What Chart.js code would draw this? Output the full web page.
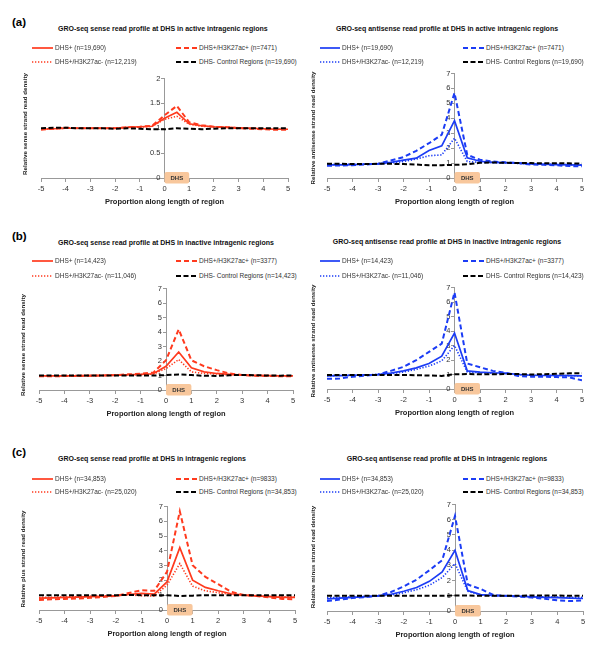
<!DOCTYPE html>
<html><head><meta charset="utf-8">
<script src="https://cdn.jsdelivr.net/npm/chart.js@4"></script>
<style>
body{margin:0;background:#fff;width:600px;height:650px;position:relative;overflow:hidden;font-family:"Liberation Sans",Arial,sans-serif;}
.t{position:absolute;white-space:nowrap;color:#222;}
.wrap{position:absolute;}
</style></head><body>
<script>
// ---------- DATA ----------
const xPositions = [-5,-4.5,-4,-3.5,-3,-2.5,-2,-1.5,-1,-0.5,0,0.5,1,1.5,2,2.5,3,3.5,4,4.5,5];

const activeSense_DHS     = [0.98,0.99,1.0,1.0,1.0,1.0,1.0,1.02,1.03,1.04,1.2,1.32,1.09,1.05,1.03,1.02,1.01,1.0,0.99,0.98,0.98];
const activeSense_AcPos   = [0.97,0.99,1.01,1.0,1.0,1.0,1.0,1.02,1.03,1.05,1.26,1.45,1.12,1.06,1.03,1.02,1.0,0.99,0.98,0.97,0.97];
const activeSense_AcNeg   = [0.98,0.99,1.0,1.0,1.0,1.0,1.0,1.02,1.02,1.04,1.18,1.24,1.08,1.04,1.03,1.02,1.01,1.0,0.99,0.98,0.98];
const activeSense_Control = [1.0,1.01,1.01,1.0,1.0,1.0,0.99,1.0,0.99,0.98,0.98,1.0,0.99,0.98,0.99,1.0,1.0,1.0,1.0,1.0,1.0];

const activeAnti_DHS     = [0.88,0.88,0.9,0.92,0.95,1.05,1.2,1.33,1.84,2.15,3.84,1.35,1.12,1.05,1.02,1.0,0.95,0.92,0.9,0.88,0.86];
const activeAnti_AcPos   = [0.82,0.84,0.86,0.9,0.96,1.17,1.4,1.82,2.33,2.9,5.7,1.55,1.22,1.1,1.05,1.0,0.9,0.88,0.85,0.8,0.78];
const activeAnti_AcNeg   = [0.9,0.9,0.92,0.93,0.95,1.0,1.1,1.27,1.49,1.55,2.67,1.1,1.05,1.03,1.0,0.98,0.95,0.93,0.92,0.9,0.88];
const activeAnti_Control = [0.95,0.95,0.94,0.94,0.95,0.95,0.93,0.9,0.85,0.86,0.88,0.92,1.02,1.04,1.02,1.0,1.0,0.98,0.98,0.98,0.97];

const inactiveSense_DHS     = [0.97,0.97,0.98,0.98,0.99,1.0,1.02,1.05,1.08,1.12,1.64,2.62,1.53,1.25,1.14,1.08,1.03,1.0,0.99,0.98,0.97];
const inactiveSense_AcPos   = [0.95,0.95,0.96,0.97,0.98,1.0,1.02,1.08,1.12,1.2,2.05,4.18,2.05,1.64,1.37,1.14,1.03,0.99,0.97,0.95,0.95];
const inactiveSense_AcNeg   = [0.98,0.98,0.99,0.99,1.0,1.0,1.02,1.04,1.06,1.1,1.48,2.1,1.25,1.14,1.1,1.05,1.02,1.0,0.99,0.98,0.98];
const inactiveSense_Control = [1.0,1.0,1.0,1.0,1.0,1.0,1.0,1.0,1.0,1.0,1.03,1.07,1.03,0.98,0.97,1.02,1.04,1.02,1.0,0.99,1.0];

const inactiveAnti_DHS     = [0.9,0.92,0.95,0.98,1.0,1.1,1.25,1.46,1.76,2.26,3.86,1.25,1.17,1.12,1.1,1.0,0.95,0.93,0.93,0.92,0.9];
const inactiveAnti_AcPos   = [0.7,0.72,0.85,0.92,1.0,1.25,1.53,1.99,2.56,3.13,6.66,1.76,1.5,1.25,1.12,0.9,0.85,0.85,0.82,0.8,0.6];
const inactiveAnti_AcNeg   = [0.92,0.93,0.95,0.98,1.0,1.05,1.17,1.35,1.58,1.94,3.0,1.17,1.12,1.08,1.05,1.0,0.95,0.95,0.93,0.92,0.9];
const inactiveAnti_Control = [0.97,0.97,0.96,0.96,0.97,0.97,0.97,0.95,0.93,0.9,1.02,1.03,1.02,1.02,1.03,1.03,1.0,1.02,1.05,1.08,1.08];

const allSense_DHS     = [0.8,0.82,0.85,0.87,0.9,0.93,0.96,1.05,1.12,1.08,1.9,4.22,2.02,1.53,1.3,1.1,1.0,0.95,0.9,0.85,0.85];
const allSense_AcPos   = [0.68,0.72,0.75,0.78,0.82,0.88,0.95,1.15,1.33,1.3,2.58,6.68,3.03,2.24,1.75,1.23,1.02,0.95,0.85,0.75,0.72];
const allSense_AcNeg   = [0.85,0.86,0.88,0.9,0.92,0.95,0.98,1.02,0.97,0.95,1.68,3.14,1.61,1.3,1.17,1.05,1.0,0.95,0.92,0.9,0.88];
const allSense_Control = [1.0,1.0,1.0,1.0,1.0,1.0,1.0,1.02,1.0,1.0,1.0,0.95,0.97,1.0,1.0,1.0,1.0,1.0,1.0,1.0,1.0];

const allAnti_DHS     = [0.8,0.85,0.9,0.95,1.0,1.1,1.3,1.54,1.95,2.57,3.99,1.35,1.08,1.02,1.0,0.97,0.93,0.9,0.88,0.85,0.82];
const allAnti_AcPos   = [0.65,0.75,0.85,0.92,1.0,1.25,1.62,2.06,2.68,3.34,6.25,1.74,1.45,1.05,1.0,0.95,0.88,0.8,0.7,0.65,0.7];
const allAnti_AcNeg   = [0.88,0.9,0.92,0.95,1.0,1.05,1.2,1.4,1.69,2.2,3.12,1.3,1.05,1.0,1.0,0.97,0.95,0.93,0.92,0.9,0.9];
const allAnti_Control = [1.0,1.0,1.0,1.0,1.0,1.0,1.0,1.0,1.0,1.0,1.02,1.02,1.0,1.0,1.0,1.0,1.02,1.02,1.02,1.0,1.0];

const legendA = ['DHS+ (n=19,690)','DHS+/H3K27ac+ (n=7471)','DHS+/H3K27ac- (n=12,219)','DHS- Control Regions (n=19,690)'];
const legendB = ['DHS+ (n=14,423)','DHS+/H3K27ac+ (n=3377)','DHS+/H3K27ac- (n=11,046)','DHS- Control Regions (n=14,423)'];
const legendC = ['DHS+ (n=34,853)','DHS+/H3K27ac+ (n=9833)','DHS+/H3K27ac- (n=25,020)','DHS- Control Regions (n=34,853)'];

// ---------- STYLE / LAYOUT ----------
const RED = '#FF3A1E', BLUE = '#1B3CF5';
const FONT = '"Liberation Sans", Arial, sans-serif';

const panels = [
 {label:'(a)', x0:0,   xl:41,  xr:288, yt:78,  yb:178, ymax:2, step:0.5, color:RED,
  title:'GRO-seq sense read profile at DHS in active intragenic regions', ty:28,
  ytitle:'Relative sense strand read density', ytx:25, yty:124, ly:[48,62], legend:legendA,
  series:[activeSense_Control, activeSense_DHS, activeSense_AcPos, activeSense_AcNeg]},
 {x0:300, xl:327, xr:582, yt:73, yb:178, ymax:7, step:1, color:BLUE,
  title:'GRO-seq antisense read profile at DHS in active intragenic regions', ty:28,
  ytitle:'Relative antisense strand read density', ytx:313, yty:128, ly:[48,62], legend:legendA,
  series:[activeAnti_Control, activeAnti_DHS, activeAnti_AcPos, activeAnti_AcNeg]},
 {label:'(b)', x0:0, xl:39, xr:293, yt:288, yb:390, ymax:7, step:1, color:RED,
  title:'GRO-seq sense read profile at DHS in inactive intragenic regions', ty:242,
  ytitle:'Relative sense strand read density', ytx:23, yty:345, ly:[261,276], legend:legendB,
  series:[inactiveSense_Control, inactiveSense_DHS, inactiveSense_AcPos, inactiveSense_AcNeg]},
 {x0:300, xl:327, xr:582, yt:287, yb:389, ymax:7, step:1, color:BLUE,
  title:'GRO-seq antisense read profile at DHS in inactive intragenic regions', ty:241,
  ytitle:'Relative antisense strand read density', ytx:313, yty:341, ly:[261,276], legend:legendB,
  series:[inactiveAnti_Control, inactiveAnti_DHS, inactiveAnti_AcPos, inactiveAnti_AcNeg]},
 {label:'(c)', x0:0, xl:39, xr:295, yt:506, yb:610, ymax:7, step:1, color:RED,
  title:'GRO-seq sense read profile at DHS in intragenic regions', ty:458,
  ytitle:'Relative plus strand read density', ytx:23, yty:559, ly:[479,492], legend:legendC,
  series:[allSense_Control, allSense_DHS, allSense_AcPos, allSense_AcNeg]},
 {x0:300, xl:327, xr:583, yt:504, yb:611, ymax:7, step:1, color:BLUE,
  title:'GRO-seq antisense read profile at DHS in intragenic regions', ty:458,
  ytitle:'Relative minus strand read density', ytx:313, yty:557, ly:[479,492], legend:legendC,
  series:[allAnti_Control, allAnti_DHS, allAnti_AcPos, allAnti_AcNeg]}
];

function text(str, x, y, size, opts={}) {
  const d = document.createElement('div');
  d.className = 't';
  d.textContent = str;
  const lh = Math.round(size*1.3);
  d.style.fontSize = size + 'px';
  d.style.lineHeight = lh + 'px';
  d.style.left = x + 'px';
  d.style.top = (y - lh/2) + 'px';
  if (opts.bold) d.style.fontWeight = 'bold';
  if (opts.color) d.style.color = opts.color;
  if (opts.center) d.style.transform = 'translateX(-50%)';
  if (opts.rotate) {
    d.style.transformOrigin = 'center center';
    d.style.transform = 'translate(-50%,0) rotate(-90deg)';
  }
  document.body.appendChild(d);
  return d;
}

function legendLine(x1, x2, y, color, dash, w) {
  const ns = 'http://www.w3.org/2000/svg';
  const s = document.createElementNS(ns, 'svg');
  s.setAttribute('width', x2 - x1); s.setAttribute('height', 6);
  s.style.position = 'absolute'; s.style.left = x1 + 'px'; s.style.top = (y - 3) + 'px';
  const l = document.createElementNS(ns, 'line');
  l.setAttribute('x1', 0); l.setAttribute('x2', x2 - x1); l.setAttribute('y1', 3); l.setAttribute('y2', 3);
  l.setAttribute('stroke', color); l.setAttribute('stroke-width', w);
  if (dash) l.setAttribute('stroke-dasharray', dash);
  s.appendChild(l);
  document.body.appendChild(s);
}

const dhsBox = {
  id: 'dhsBox',
  afterDraw(chart) {
    const {ctx} = chart, x = chart.scales.x, y = chart.scales.y;
    const a = x.getPixelForValue(0), b = x.getPixelForValue(1), yb = y.getPixelForValue(0);
    ctx.save();
    ctx.fillStyle = '#F8C79C';
    ctx.beginPath();
    ctx.roundRect(a, yb - 6, b - a, 11.5, 2);
    ctx.fill();
    ctx.fillStyle = '#333';
    ctx.font = 'bold 6px ' + FONT;
    ctx.textAlign = 'center'; ctx.textBaseline = 'middle';
    ctx.fillText('DHS', (a + b) / 2, yb);
    ctx.restore();
  }
};

const XH = 31, PT = 8;
panels.forEach((p, i) => {
  const W = 300, H = (p.yb - p.yt) + PT + XH;
  const wrap = document.createElement('div');
  wrap.className = 'wrap';
  wrap.style.left = p.x0 + 'px'; wrap.style.top = (p.yt - PT) + 'px';
  wrap.style.width = W + 'px'; wrap.style.height = H + 'px';
  const cv = document.createElement('canvas');
  cv.width = W; cv.height = H;
  cv.style.width = W + 'px'; cv.style.height = H + 'px';
  wrap.appendChild(cv);
  document.body.appendChild(wrap);

  const styles = [
    {color:'#000', dash:[5,2.5], w:2},
    {color:p.color, dash:[], w:1.7},
    {color:p.color, dash:[5,3], w:2},
    {color:p.color, dash:[1.3,1.7], w:1.6}
  ];
  const datasets = p.series.map((vals, k) => ({
    data: xPositions.map((xv, j) => ({x: xv, y: vals[j]})),
    borderColor: styles[k].color,
    borderDash: styles[k].dash,
    borderWidth: styles[k].w,
    pointRadius: 0,
    tension: 0,
    fill: false
  }));

  new Chart(cv, {
    type: 'line',
    data: {datasets},
    plugins: [dhsBox],
    options: {
      responsive: false, animation: false,
      layout: {padding: {left: p.xl - p.x0, right: p.x0 + W - p.xr, top: PT, bottom: 0}},
      plugins: {legend: {display: false}, tooltip: {enabled: false}, title: {display: false}},
      scales: {
        x: {
          type: 'linear', position: 'bottom', min: -5, max: 5,
          afterFit: (s) => { s.height = XH; },
          ticks: {stepSize: 1, autoSkip: false, maxRotation: 0, color: '#333', padding: 2.5,
                  font: {family: FONT, size: 7.5}},
          grid: {drawOnChartArea: false, drawTicks: true, tickLength: 4, color: '#999'},
          border: {color: '#999', width: 1},
          title: {display: true, text: 'Proportion along length of region', color: '#222',
                  padding: {top: 0, bottom: 2.5}, font: {family: FONT, size: 7.5, weight: 'bold', lineHeight: 1.2}}
        },
        y: {
          type: 'linear', position: {x: 0}, min: 0, max: p.ymax,
          ticks: {stepSize: p.step, color: '#333', padding: 4, font: {family: FONT, size: 7.5},
                  callback: (v) => String(Math.round(v * 10) / 10) + '  '},
          grid: {drawOnChartArea: false, drawTicks: true, tickLength: 3, color: '#999'},
          border: {color: '#999', width: 1}
        }
      }
    }
  });

  // texts
  if (p.label) text(p.label, 12, p.ty - 6, 11.5, {bold: true, color: '#000'});
  if (p.x0 === 0) text(p.title, 58, p.ty, 7, {bold: true, color: '#111'});
  else text(p.title, 447, p.ty, 7, {bold: true, color: '#111', center: true});
  text(p.ytitle, p.ytx, p.yty, 6.2, {bold: true, color: '#222', rotate: true});

  const c1 = p.x0 === 0 ? [32, 53, 55] : [320, 340, 342];
  const c2 = p.x0 === 0 ? [176, 197, 199] : [463, 484, 486];
  const rows = [[c1, p.ly[0], 1], [c2, p.ly[0], 2], [c1, p.ly[1], 3], [c2, p.ly[1], 0]];
  rows.forEach((r, k) => {
    const st = styles[r[2]];
    legendLine(r[0][0], r[0][1], r[1], st.color, st.dash.length ? st.dash.join(',') : null, st.w);
    text(p.legend[k], r[0][2], r[1], 6.5, {color: '#333'});
  });
});
</script>
</body></html>
